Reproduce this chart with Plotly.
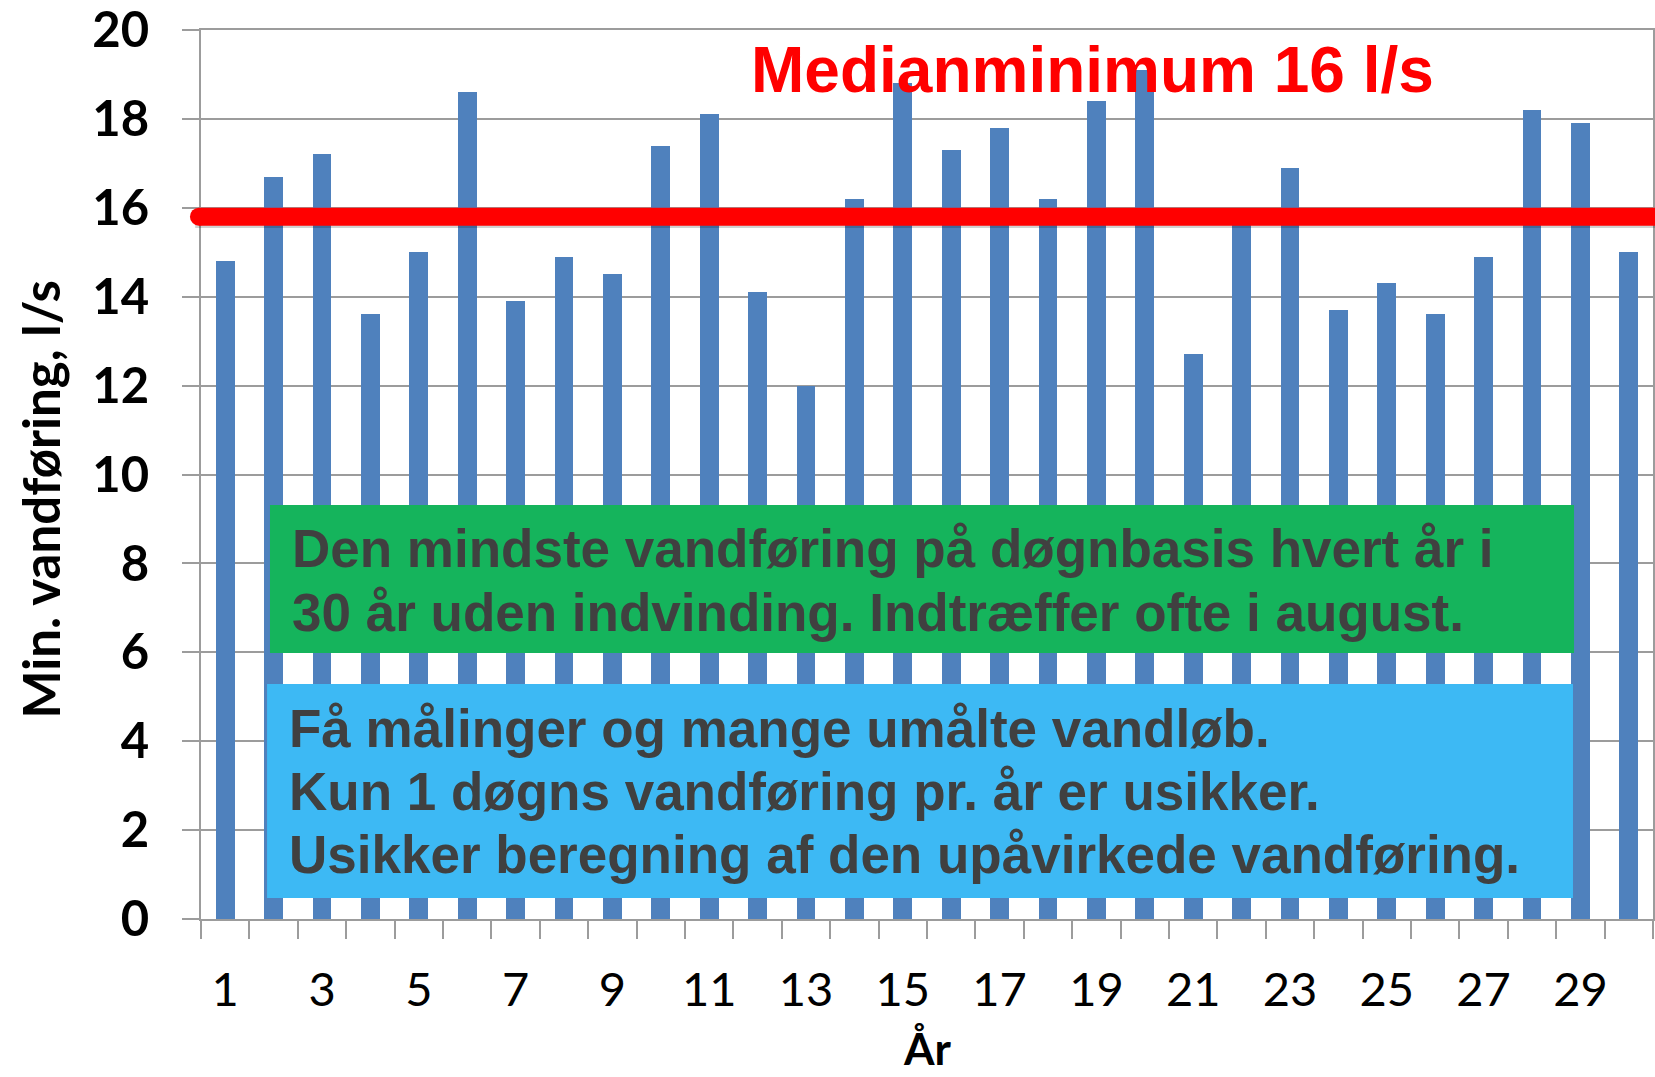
import plotly.graph_objects as go

# ---------------- data ----------------
years = list(range(1, 31))
min_flow = [14.8, 16.7, 17.2, 13.6, 15.0, 18.6, 13.9, 14.9, 14.5, 17.4,
            18.1, 14.1, 12.0, 16.2, 18.8, 17.3, 17.8, 16.2, 18.4, 19.1,
            12.7, 15.8, 16.9, 13.7, 14.3, 13.6, 14.9, 18.2, 17.9, 15.0]
x_tick_vals = list(range(1, 30, 2))
x_tick_labels = [str(v) for v in x_tick_vals]
y_tick_vals = list(range(0, 21, 2))
median_level = 15.8
title_text = "Medianminimum 16 l/s"
green_lines = ["Den mindste vandføring på døgnbasis hvert år i",
               "30 år uden indvinding. Indtræffer ofte i august."]
blue_lines = ["Få målinger og mange umålte vandløb.",
              "Kun 1 døgns vandføring pr. år er usikker.",
              "Usikker beregning af den upåvirkede vandføring."]
x_title = "År"
y_title = "Min. vandføring, l/s"

# ---------------- style ----------------
BAR = "#4F81BD"
GRID = "#9C9C9C"
RED = "#FF0000"
GREEN = "#15B45C"
BLUE = "#3DB9F4"
TXT = "#404040"
AX_FONT = "Lato, Carlito, Calibri, sans-serif"
BOX_FONT = "Liberation Sans, Arial, sans-serif"

fig = go.Figure()
fig.add_trace(go.Bar(x=years, y=min_flow, width=0.39, marker=dict(color=BAR, line=dict(width=0)),
                     showlegend=False))

boundaries = [y - 0.5 for y in years] + [years[-1] + 0.5]

fig.update_layout(
    width=1655, height=1077,
    margin=dict(l=201, r=2, t=30, b=158, autoexpand=False),
    plot_bgcolor="white", paper_bgcolor="white",
    bargap=0,
    xaxis=dict(
        automargin=False,
        range=[0.5, 30.5], tickmode="array", tickvals=x_tick_vals, ticktext=x_tick_labels,
        ticks="", showgrid=False, zeroline=False,
        showline=True, linecolor=GRID, linewidth=2, mirror=True,
        tickfont=dict(family=AX_FONT, size=47, color="black"),
        ticklabelstandoff=29, ticklabeloverflow="allow",
        minor=dict(tickmode="array", tickvals=boundaries, ticks="outside", ticklen=18,
                   tickcolor=GRID, tickwidth=1.5, showgrid=False),
    ),
    yaxis=dict(
        automargin=False,
        range=[0, 20], tickmode="array", tickvals=y_tick_vals,
        showgrid=True, gridcolor=GRID, gridwidth=1.5, zeroline=False,
        ticks="outside", ticklen=17, tickcolor=GRID, tickwidth=1.5,
        showline=True, linecolor=GRID, linewidth=2, mirror=True,
        tickfont=dict(family=AX_FONT, size=49, color="black", weight="bold"),
        ticklabelstandoff=23, ticklabeloverflow="allow",
    ),
)

# text boxes (paper coordinates)
fig.add_shape(type="rect", xref="paper", yref="paper", x0=0.0475, x1=0.9456, y0=0.2992, y1=0.4657,
              fillcolor=GREEN, line=dict(width=0), layer="above")
fig.add_shape(type="rect", xref="paper", yref="paper", x0=0.0455, x1=0.9449, y0=0.0236, y1=0.2643,
              fillcolor=BLUE, line=dict(width=0), layer="above")

# median line with shadow and rounded left cap
fig.add_shape(type="line", xref="paper", yref="y", x0=-0.004, x1=1.01,
              y0=median_level - 0.14, y1=median_level - 0.14,
              line=dict(color="rgba(0,0,0,0.18)", width=10), layer="above")
fig.add_shape(type="line", xref="paper", yref="y", x0=-0.0014, x1=1.01,
              y0=median_level, y1=median_level,
              line=dict(color=RED, width=18), layer="above")
fig.add_shape(type="circle", xref="paper", yref="y", x0=-0.0076, x1=0.0048,
              y0=median_level - 0.2025, y1=median_level + 0.2025,
              fillcolor=RED, line=dict(width=0), layer="above")

# title text
fig.add_annotation(text=title_text, xref="paper", yref="paper", x=0.3775, y=0.9552,
                   xanchor="left", yanchor="middle", showarrow=False,
                   font=dict(family=BOX_FONT, size=64, color=RED, weight="bold"))

green_y = [0.4166, 0.3447]
for t, yy in zip(green_lines, green_y):
    fig.add_annotation(text=t, xref="paper", yref="paper", x=0.0612, y=yy,
                       xanchor="left", yanchor="middle", showarrow=False,
                       font=dict(family=BOX_FONT, size=53, color=TXT, weight="bold"))
blue_y = [0.2142, 0.1433, 0.0724]
for t, yy in zip(blue_lines, blue_y):
    fig.add_annotation(text=t, xref="paper", yref="paper", x=0.0595, y=yy,
                       xanchor="left", yanchor="middle", showarrow=False,
                       font=dict(family=BOX_FONT, size=53, color=TXT, weight="bold"))

# axis titles
fig.add_annotation(text=x_title, xref="paper", yref="paper", x=0.5, y=-0.145,
                   xanchor="center", yanchor="middle", showarrow=False,
                   font=dict(family=AX_FONT, size=44, color="black", weight="bold"))
fig.add_annotation(text=y_title, xref="paper", yref="paper", x=-0.1112, y=0.4713,
                   xanchor="center", yanchor="middle", showarrow=False, textangle=-90,
                   font=dict(family=AX_FONT, size=51, color="black", weight="bold"))

fig.write_html("out.html", config=dict(displayModeBar=False),
               post_script="document.body.style.margin='0';document.body.style.overflow='hidden';")
